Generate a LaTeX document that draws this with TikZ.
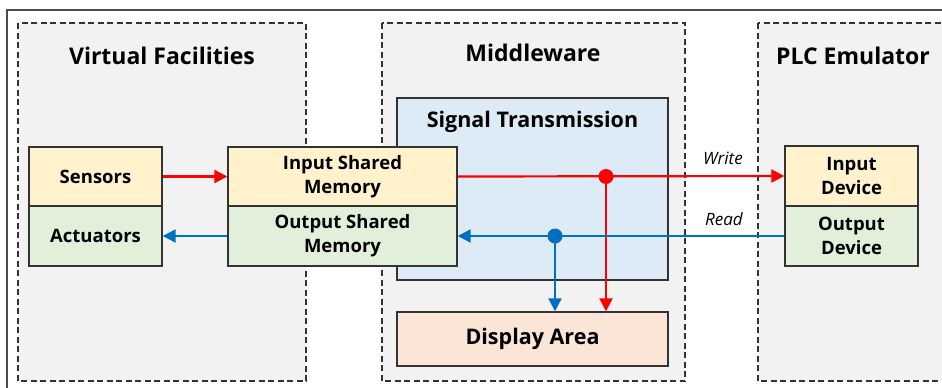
\documentclass[tikz,border=0pt]{standalone}
\usepackage{fontspec}
\setmainfont{Open Sans}
\usetikzlibrary{arrows.meta}
\definecolor{panelgray}{HTML}{F2F2F2}
\definecolor{inyellow}{HTML}{FFF2CC}
\definecolor{outgreen}{HTML}{E2EFDA}
\definecolor{sigblue}{HTML}{DDEBF7}
\definecolor{disporange}{HTML}{FBE5D6}
\definecolor{wred}{HTML}{FF0000}
\definecolor{rblue}{HTML}{0070C0}
\begin{document}
\begin{tikzpicture}[x=1pt,y=-1pt]
% Define styles
\tikzset{
    panel/.style={draw=black!80, dash pattern=on 6pt off 3.5pt, fill=panelgray, line width=1.2pt},
    paneltitle/.style={font=\bfseries\fontsize{23}{28}\selectfont},
    box/.style={rectangle, draw=black!80, line width=1.4pt, align=center, inner sep=0pt,
        font=\bfseries\fontsize{18.5}{24}\selectfont},
    inbox/.style={box, fill=inyellow},
    outbox/.style={box, fill=outgreen},
    wline/.style={draw=wred, line width=2.2pt},
    rline/.style={draw=rblue, line width=2.2pt},
    tip/.style={-{Triangle[length=13pt,width=13pt]}},
    rwlabel/.style={font=\itshape\fontsize{17}{20}\selectfont}
}

\useasboundingbox (0,0) rectangle (942,388);
\clip (0,0) rectangle (942,388);

% Outer frame
\draw[black!70, line width=1.5pt] (7,10) rectangle (1000,400);

% Panels
\path[panel] (18,23) rectangle (306,381);
\path[panel] (382,23) rectangle (685,381);
\path[panel] (758,23) rectangle (990,381);

% Panel titles
\node[paneltitle] (vftitle) at (162,56) {Virtual Facilities};
\node[paneltitle] (mwtitle) at (533,53) {Middleware};
\node[paneltitle] (plctitle) at (853,56) {PLC Emulator};

% Middleware boxes
\node[box, fill=sigblue, minimum width=271pt, minimum height=182pt] (sigbox) at (532.5,189) {};
\node[font=\bfseries\fontsize{21.5}{26}\selectfont] (sigtitle) at (532.5,122) {Signal Transmission};
\node[box, fill=disporange, minimum width=271pt, minimum height=54pt,
    font=\bfseries\fontsize{21.5}{26}\selectfont] (display) at (532.5,339) {Display Area};

% Virtual facilities
\node[inbox, minimum width=133pt, minimum height=59pt] (sensors) at (95.5,176.5) {Sensors};
\node[outbox, minimum width=133pt, minimum height=60pt] (actuators) at (95.5,236) {Actuators};

% Shared memory
\node[inbox, minimum width=229pt, minimum height=59pt] (inmem) at (342.5,176.5) {Input Shared\\Memory};
\node[outbox, minimum width=229pt, minimum height=60pt] (outmem) at (342.5,236) {Output Shared\\Memory};

% PLC devices
\node[inbox, minimum width=133pt, minimum height=60pt] (indev) at (851.5,176) {Input\\Device};
\node[outbox, minimum width=133pt, minimum height=60pt] (outdev) at (851.5,236) {Output\\Device};

% Branch points
\coordinate (wdot) at (606,176.5);
\coordinate (rdot) at (555,236);

% Write path
\draw[wline, tip] (sensors.east) -- (inmem.west);
\draw[wline, tip] (inmem.east) -- (indev.west);
\draw[wline, tip] (wdot) -- (wdot |- display.north);
\fill[wred] (wdot) circle (7.5pt);

% Read path
\draw[rline, tip] (outdev.west) -- (outmem.east);
\draw[rline, tip] (outmem.west) -- (actuators.east);
\draw[rline, tip] (rdot) -- (rdot |- display.north);
\fill[rblue] (rdot) circle (7.5pt);

% Labels
\node[rwlabel] (wlabel) at (723,158) {Write};
\node[rwlabel] (rlabel) at (724,219) {Read};

\end{tikzpicture}
\end{document}
